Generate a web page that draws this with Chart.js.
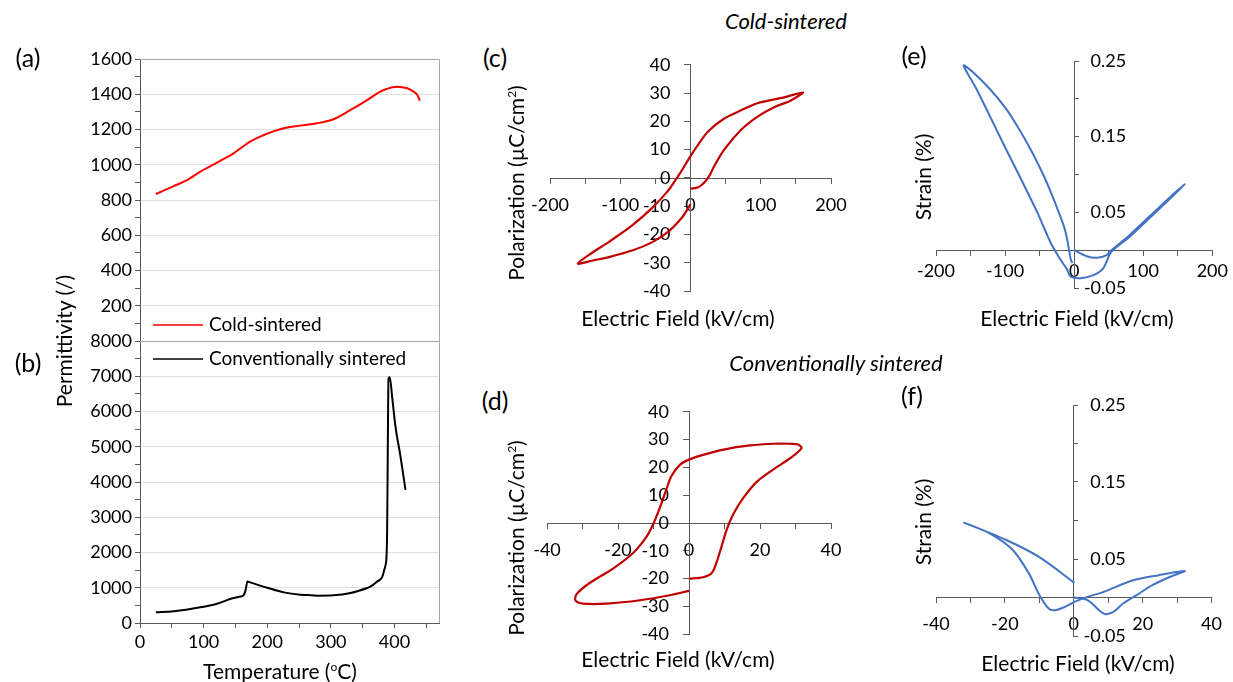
<!DOCTYPE html>
<html>
<head>
<meta charset="utf-8">
<script src="https://cdn.jsdelivr.net/npm/chart.js@4.4.1/dist/chart.umd.min.js"></script>
<style>
  body { margin: 0; background: #fff; }
  #fig { position: relative; width: 1233px; height: 682px; overflow: hidden; font-family: Lato, sans-serif; color: #000; }
  canvas { position: absolute; }
  .t { position: absolute; white-space: nowrap; line-height: 1; font-size: 21px; transform: translate(-50%, -50%); }
  .rot { transform: translate(-50%, -50%) rotate(-90deg); }
  .tag { font-size: 25px; }
  .head { font-size: 22px; font-style: italic; }
  sup { font-size: 12px; }
</style>
</head>
<body>
<div id="fig">
  <canvas id="perm" width="470" height="642" style="left:0;top:40px"></canvas>
  <canvas id="peCold" width="340" height="280" style="left:520px;top:40px"></canvas>
  <canvas id="peConv" width="340" height="272" style="left:520px;top:387px"></canvas>
  <canvas id="stCold" width="323" height="270" style="left:910px;top:40px"></canvas>
  <canvas id="stConv" width="323" height="275" style="left:910px;top:385px"></canvas>

  <div class="t tag" style="left:28px;top:57px">(a)</div>
  <div class="t tag" style="left:28px;top:362px">(b)</div>
  <div class="t tag" style="left:495px;top:57px">(c)</div>
  <div class="t tag" style="left:495px;top:400px">(d)</div>
  <div class="t tag" style="left:914px;top:55px">(e)</div>
  <div class="t tag" style="left:912px;top:395px">(f)</div>

  <div class="t head" style="left:786px;top:21px">Cold-sintered</div>
  <div class="t head" style="left:836px;top:363px">Conventionally sintered</div>

  <div class="t rot" style="left:63px;top:341px">Permittivity (/)</div>
  <div class="t" style="left:280px;top:670px">Temperature (<sup>o</sup>C)</div>

  <div class="t" style="left:678px;top:317px">Electric Field (kV/cm)</div>
  <div class="t rot" style="left:515px;top:183px">Polarization (µC/cm<sup>2</sup>)</div>
  <div class="t" style="left:678px;top:658px">Electric Field (kV/cm)</div>
  <div class="t rot" style="left:515px;top:538px">Polarization (µC/cm<sup>2</sup>)</div>

  <div class="t" style="left:1077px;top:317px">Electric Field (kV/cm)</div>
  <div class="t rot" style="left:922px;top:177px">Strain (%)</div>
  <div class="t" style="left:1078px;top:662px">Electric Field (kV/cm)</div>
  <div class="t rot" style="left:922px;top:522px">Strain (%)</div>
</div>

<script>
Chart.defaults.font.family = 'Lato';
Chart.defaults.font.size = 18;
Chart.defaults.color = '#000';

// permittivity vs temperature
const tempCold = [25, 53, 74, 95, 121, 147, 173, 189, 226, 252, 278, 304, 331, 357, 373, 383, 404, 420, 430, 436, 440];
const permCold = [834, 879, 913, 961, 1012, 1065, 1131, 1160, 1207, 1222, 1235, 1258, 1311, 1367, 1405, 1424, 1443, 1434, 1415, 1396, 1364];
const tempConv = [25, 53, 95, 121, 147, 158, 163, 166, 169, 173, 189, 200, 226, 252, 263, 278, 304, 331, 357, 362, 373, 381, 384, 386, 387.5, 388.5, 389.5, 390.6, 392.7, 396.3, 401.6, 409.5, 417.3];
const permConv = [302, 330, 444, 548, 708, 750, 790, 940, 1180, 1152, 1060, 1000, 869, 803, 794, 774, 784, 850, 992, 1030, 1180, 1313, 1511, 1650, 1889, 2644, 4910, 6940, 6970, 6421, 5571, 4721, 3777];
const tempTicks = [0, 100, 200, 300, 400];
const permTicksCold = [200, 400, 600, 800, 1000, 1200, 1400, 1600];
const permTicksConv = [0, 1000, 2000, 3000, 4000, 5000, 6000, 7000, 8000];

// P-E loops
const fieldC = [0, 11, 20, 27, 34, 48, 72, 95, 119, 142, 160, 133, 95, 72, 48, 25, 11, 0, -12.7, -19.7, -31.5, -55, -83, -116, -139, -160.5, -139, -116, -83, -55, -31.5, -12.7, -3.3, 0];
const polC = [-3.8, -3.3, -1.5, 0.8, 4.3, 10, 17, 21.6, 25, 27.3, 30.2, 28.5, 26.4, 23.9, 21, 16.4, 11.8, 7.7, 2.5, -0.1, -4.4, -10.7, -16.8, -22.6, -26.3, -30.3, -29.2, -28, -25.7, -22.8, -19, -14.2, -10.7, -9.2];
const fieldD = [0, 4, 6.4, 7.8, 9.2, 10.6, 12.5, 15.3, 19, 23.8, 28.5, 31.7, 30.5, 28.5, 23.8, 17.2, 9.7, 4, 0, -2.5, -4.9, -6.3, -8.2, -10, -11.9, -15.6, -21.3, -27.9, -31.6, -32, -29.8, -23.2, -13.8, -5.4, 0];
const polD = [-20, -19.5, -18, -14, -8.3, -2.5, 3.2, 9, 14.7, 19.3, 23.3, 27, 28.3, 28.5, 28.5, 27.9, 26.4, 24.5, 22.8, 21, 17, 12.4, 5.5, -0.2, -4.8, -10.6, -16.3, -21.5, -25.5, -27.8, -29, -29, -27.8, -26, -24.4];
const polTicks = [-40, -30, -20, -10, 0, 10, 20, 30, 40];

// strain loops
const fieldE = [0, 18, 33, 47, 54, 80, 108, 136, 160, 136, 108, 80, 54, 42, 28, 9, -5.2, -9.9, -19.4, -33.5, -52.4, -75.9, -99.5, -123, -142, -160, -146.8, -123, -99.5, -80.7, -61.8, -42.9, -28.7, -14.6, -9.9, -5.2, -2.8];
const strainE = [0, -0.008, -0.01, -0.0065, 0, 0.0197, 0.0437, 0.0677, 0.087, 0.0655, 0.0415, 0.0175, -0.002, -0.024, -0.033, -0.037, -0.035, -0.026, -0.013, 0.0088, 0.048, 0.092, 0.135, 0.179, 0.214, 0.244, 0.2356, 0.214, 0.188, 0.1615, 0.131, 0.096, 0.065, 0.031, 0.013, -0.011, -0.017];
const fieldF = [0, 4, 8.7, 11.5, 14.3, 19, 22.8, 27.5, 32.2, 24.7, 17, 8.7, 4, 0.2, -2.6, -5.5, -7.3, -10.2, -13, -17.7, -24.3, -31.8, -19.6, -10.2, 0.2];
const strainF = [0, -0.0035, -0.021, -0.0187, -0.0078, 0.0052, 0.016, 0.026, 0.0343, 0.029, 0.022, 0.0073, 0.0008, -0.0057, -0.0122, -0.0166, -0.0143, 0.005, 0.031, 0.0617, 0.083, 0.097, 0.0747, 0.053, 0.019];
const strainTicks = [-0.05, 0.05, 0.15, 0.25];

const fieldTicksWide = [-200, -100, 0, 100, 200];
const fieldTicksNarrow = [-40, -20, 0, 20, 40];

const AXIS = '#595959';

function pts(xs, ys) {
  return xs.map((x, i) => ({ x: x, y: ys[i] }));
}

function hasTick(list, v) {
  return list.some(t => Math.abs(t - v) < 1e-9);
}

// tick marks every `step` between min and max
function stepTicks(min, max, step) {
  return scale => {
    const out = [];
    const n = Math.round((max - min) / step);
    for (let i = 0; i <= n; i++) out.push({ value: +(min + i * step).toFixed(6) });
    scale.ticks = out;
  };
}

// grey frame on top and right, plus the separator between the two stacked plots
const frame = {
  id: 'frame',
  afterDatasetsDraw(chart) {
    const { ctx, chartArea: a, scales } = chart;
    const mid = Math.round(scales.y.top) + 0.5;
    ctx.save();
    ctx.strokeStyle = '#a6a6a6';
    ctx.lineWidth = 1;
    ctx.beginPath();
    ctx.moveTo(a.left, Math.round(a.top) + 0.5);
    ctx.lineTo(Math.round(a.right) + 0.5, Math.round(a.top) + 0.5);
    ctx.lineTo(Math.round(a.right) + 0.5, a.bottom);
    ctx.moveTo(a.left, mid);
    ctx.lineTo(a.right, mid);
    ctx.stroke();
    ctx.restore();
  }
};

// legend entries sitting either side of the separator
const insideLegend = {
  id: 'insideLegend',
  afterDraw(chart) {
    const { ctx, chartArea: a, scales } = chart;
    const mid = scales.y.top;
    ctx.save();
    ctx.font = '19px Lato';
    ctx.textBaseline = 'middle';
    ctx.fillStyle = '#000';
    chart.data.datasets.forEach((ds, i) => {
      const y = i === 0 ? mid - 16 : mid + 18;
      ctx.strokeStyle = ds.borderColor;
      ctx.lineWidth = 1.5;
      ctx.beginPath();
      ctx.moveTo(a.left + 13, y);
      ctx.lineTo(a.left + 63, y);
      ctx.stroke();
      ctx.fillText(ds.label, a.left + 69, y);
    });
    ctx.restore();
  }
};

const gridFor = labels => ({
  drawOnChartArea: true,
  tickLength: 5,
  tickColor: AXIS,
  color: c => {
    const v = c.tick.value;
    const last = labels[labels.length - 1];
    return hasTick(labels, v) && v > 0 && v < last ? '#dedede' : 'rgba(0,0,0,0)';
  }
});

new Chart(document.getElementById('perm'), {
  type: 'scatter',
  data: {
    datasets: [
      { label: 'Cold-sintered', data: pts(tempCold, permCold), yAxisID: 'yTop',
        borderColor: '#ff0000', borderWidth: 2, showLine: true, pointRadius: 0,
        cubicInterpolationMode: 'monotone' },
      { label: 'Conventionally sintered', data: pts(tempConv, permConv), yAxisID: 'y',
        borderColor: '#000000', borderWidth: 2, showLine: true, pointRadius: 0,
        cubicInterpolationMode: 'monotone' }
    ]
  },
  options: {
    responsive: false,
    animation: false,
    layout: { padding: { top: 19, right: 31, left: 0, bottom: 0 } },
    plugins: { legend: { display: false }, tooltip: { enabled: false } },
    scales: {
      x: {
        type: 'linear', min: 0, max: 470,
        afterBuildTicks: stepTicks(0, 450, 50),
        ticks: { autoSkip: false, maxRotation: 0, padding: 3,
                 callback: v => hasTick(tempTicks, v) ? String(v) : '' },
        grid: { drawOnChartArea: false, tickLength: 5, color: AXIS },
        border: { color: AXIS },
        afterFit: s => { s.height = 59; }
      },
      y: {
        type: 'linear', position: 'left', stack: 'perm', stackWeight: 1,
        min: 0, max: 8000,
        afterBuildTicks: stepTicks(0, 8000, 500),
        ticks: { autoSkip: false, padding: 3,
                 callback: v => hasTick(permTicksConv, v) ? String(v) : '' },
        grid: gridFor(permTicksConv),
        border: { color: AXIS },
        afterFit: s => { s.width = 140; }
      },
      yTop: {
        type: 'linear', position: 'left', stack: 'perm', stackWeight: 1,
        min: 0, max: 1600,
        afterBuildTicks: stepTicks(0, 1600, 100),
        ticks: { autoSkip: false, padding: 3,
                 callback: v => hasTick(permTicksCold, v) ? String(v) : '' },
        grid: gridFor(permTicksCold),
        border: { color: AXIS },
        afterFit: s => { s.width = 140; }
      }
    }
  },
  plugins: [frame, insideLegend]
});

// loop plots with axes crossing at the origin
function loopPanel(id, xs, ys, o) {
  const xl = o.xLabels, yl = o.yLabels;
  const xMin = xl[0], xMax = xl[xl.length - 1];
  return new Chart(document.getElementById(id), {
    type: 'scatter',
    data: {
      datasets: [{ data: pts(xs, ys), showLine: true, pointRadius: 0,
                   borderColor: o.color, borderWidth: o.width, tension: 0.3 }]
    },
    options: {
      responsive: false,
      animation: false,
      layout: { padding: o.pad },
      plugins: { legend: { display: false }, tooltip: { enabled: false } },
      scales: {
        x: {
          type: 'linear', position: o.xPos, min: xMin, max: xMax,
          afterBuildTicks: stepTicks(xMin, xMax, o.xStep),
          ticks: { autoSkip: false, maxRotation: 0, padding: o.xPad,
                   callback: v => hasTick(xl, v) ? String(v) : '' },
          grid: { drawOnChartArea: false, tickLength: 5, color: AXIS },
          border: { color: AXIS }
        },
        y: {
          type: 'linear', position: 'center', min: o.yMin, max: o.yMax,
          afterBuildTicks: stepTicks(o.yMin, o.yMax, o.yStep),
          ticks: { autoSkip: false, padding: o.yPad,
                   callback: v => hasTick(yl, v) ? v.toFixed(o.yDec) : '' },
          grid: { drawOnChartArea: false, tickLength: o.yTick, color: AXIS },
          border: { color: AXIS }
        }
      }
    }
  });
}

loopPanel('peCold', fieldC, polC, {
  color: '#c00000', width: 2.2, pad: { left: 27, right: 29, top: 20, bottom: 29 },
  xLabels: fieldTicksWide, xStep: 50, xPos: 'center', xPad: 11,
  yLabels: polTicks, yMin: -40, yMax: 40, yStep: 10, yDec: 0, yTick: 6, yPad: 14
});
loopPanel('peConv', fieldD, polD, {
  color: '#c00000', width: 2.2, pad: { left: 27, right: 29, top: 20, bottom: 20 },
  xLabels: fieldTicksNarrow, xStep: 10, xPos: 'center', xPad: 11,
  yLabels: polTicks, yMin: -40, yMax: 40, yStep: 10, yDec: 0, yTick: 6, yPad: 14
});
loopPanel('stCold', fieldE, strainE, {
  color: '#4472c4', width: 2, pad: { left: 26, right: 15, top: 21, bottom: 22 },
  xLabels: fieldTicksWide, xStep: 50, xPos: { y: 0 }, xPad: 5,
  yLabels: strainTicks, yMin: -0.05, yMax: 0.25, yStep: 0.05, yDec: 2, yTick: -5, yPad: -47
});
loopPanel('stConv', fieldF, strainF, {
  color: '#4472c4', width: 2, pad: { left: 26, right: 14, top: 20, bottom: 24 },
  xLabels: fieldTicksNarrow, xStep: 10, xPos: { y: 0 }, xPad: 11,
  yLabels: strainTicks, yMin: -0.05, yMax: 0.25, yStep: 0.05, yDec: 2, yTick: -5, yPad: -47
});
</script>
</body>
</html>
